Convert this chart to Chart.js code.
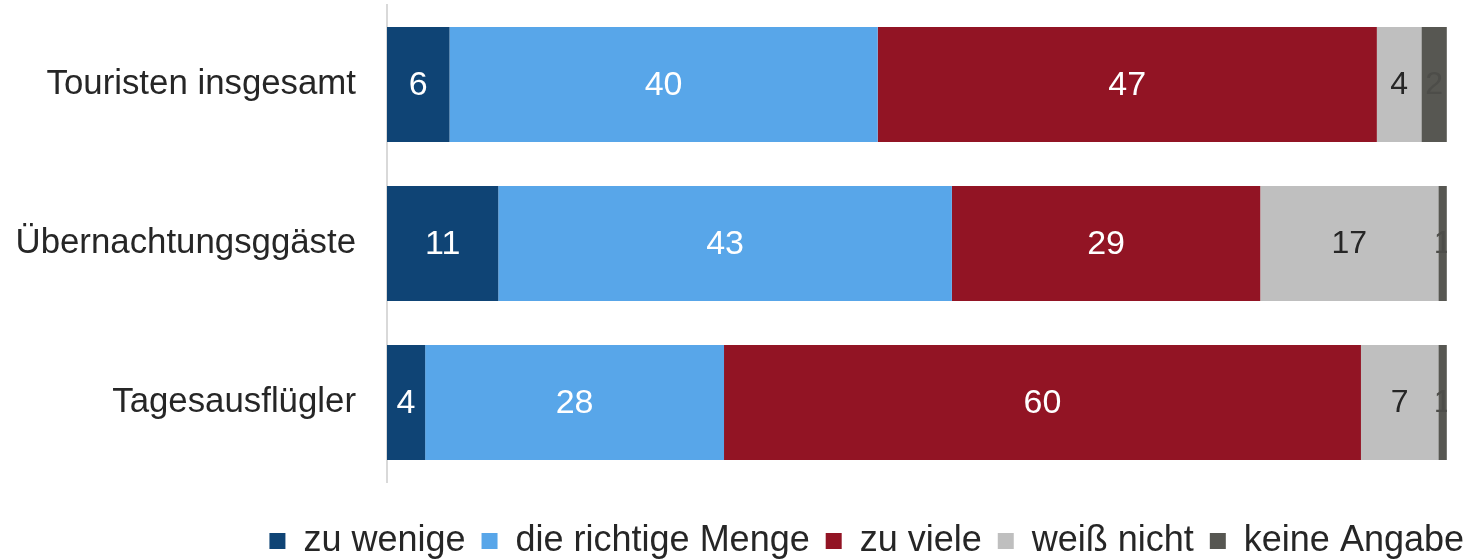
<!DOCTYPE html>
<html><head><meta charset="utf-8">
<script src="https://cdn.jsdelivr.net/npm/chart.js@4.4.1/dist/chart.umd.min.js"></script>
<style>html,body{margin:0;padding:0;background:#fff;}#wrap{width:1468px;height:560px;position:relative;}</style>
</head><body><div id="wrap"><canvas id="c"></canvas></div>
<script>
const categories = ['Touristen insgesamt', 'Übernachtungsggäste', 'Tagesausflügler'];
const seriesNames = ['zu wenige', 'die richtige Menge', 'zu viele', 'weiß nicht', 'keine Angabe'];
const zuWenige = [5.9, 10.5, 3.6];
const richtigeMenge = [40.4, 42.8, 28.2];
const zuViele = [47.1, 29.1, 60.1];
const weissNicht = [4.2, 16.8, 7.3];
const keineAngabe = [2.4, 0.8, 0.8];

const FONT = "'Liberation Sans', Arial, sans-serif";
const seriesValues = [zuWenige, richtigeMenge, zuViele, weissNicht, keineAngabe];
const seriesColors = ['#0f4475', '#58a6e9', '#921424', '#bfbfbf', '#575752'];
const labelColors = ['#ffffff', '#ffffff', '#ffffff', '#262626', '#4d4d49'];
const labelSizes = [34, 34, 34, 32, 32];

const segLabels = {
  id: 'segLabels',
  afterDatasetsDraw(chart) {
    const ctx = chart.ctx;
    const area = chart.chartArea;
    const xEnd = chart.scales.x.getPixelForValue(100);
    ctx.save();
    ctx.beginPath();
    ctx.rect(area.left, area.top, xEnd - area.left, area.bottom - area.top);
    ctx.clip();
    chart.data.datasets.forEach((ds, di) => {
      const meta = chart.getDatasetMeta(di);
      meta.data.forEach((bar, i) => {
        const v = ds.data[i];
        const cx = (bar.x + bar.base) / 2;
        ctx.font = labelSizes[di] + 'px ' + FONT;
        ctx.fillStyle = labelColors[di];
        ctx.textAlign = 'center';
        ctx.textBaseline = 'middle';
        ctx.fillText(String(Math.round(v)), cx, bar.y + 1);
      });
    });
    ctx.restore();
  }
};

new Chart(document.getElementById('c'), {
  type: 'bar',
  data: {
    labels: categories,
    datasets: seriesNames.map((n, k) => ({
      label: n,
      data: seriesValues[k],
      backgroundColor: seriesColors[k],
      borderWidth: 0,
      categoryPercentage: 0.723,
      barPercentage: 1
    }))
  },
  options: {
    indexAxis: 'y',
    responsive: true,
    maintainAspectRatio: false,
    animation: false,
    layout: { padding: { top: 5, left: 0, right: -12, bottom: -9 } },
    scales: {
      x: {
        stacked: true, min: 0, max: 102,
        display: true,
        grid: { display: false, drawTicks: false },
        border: { display: false },
        ticks: { display: false },
        afterFit: s => { s.height = 25; s.paddingLeft = 0; s.paddingRight = 0; }
      },
      y: {
        stacked: true,
        grid: { display: false, drawTicks: false },
        border: { display: true, color: '#d9d9d9', width: 2 },
        ticks: { color: '#262626', font: { family: FONT, size: 34.8 }, padding: 31 },
        afterFit: s => { s.width = 387; s.paddingTop = 0; s.paddingBottom = 0; }
      }
    },
    plugins: {
      legend: {
        position: 'bottom', align: 'end',
        labels: { color: '#262626', font: { family: FONT, size: 36 }, boxWidth: 16, boxHeight: 16, padding: 16 }
      },
      tooltip: { enabled: false }
    }
  },
  plugins: [segLabels]
});
</script></body></html>
